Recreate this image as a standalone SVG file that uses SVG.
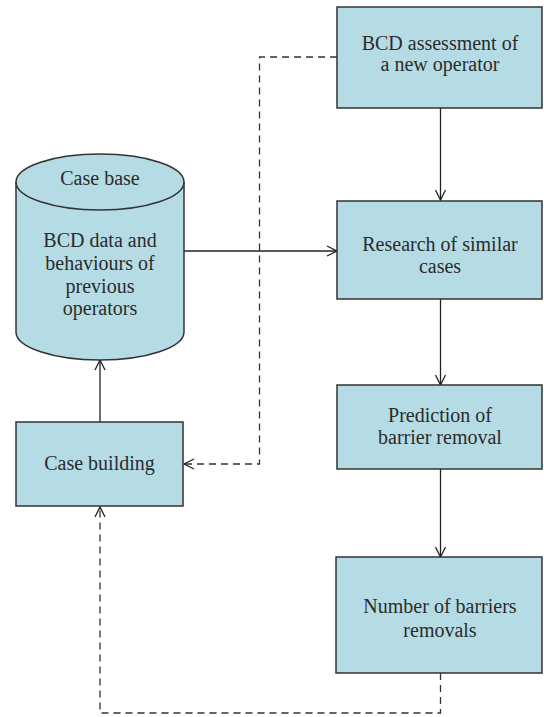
<svg xmlns="http://www.w3.org/2000/svg" width="544" height="717" viewBox="0 0 544 717">
<style>
.box{fill:#b5dce4;stroke:#333;stroke-width:1.5}
.t{font-family:"Liberation Serif","DejaVu Serif",serif;font-size:20px;fill:#2b2b2b;text-anchor:middle;dominant-baseline:central}
.c{fill:none;stroke:#222;stroke-width:1.3}
.d{fill:none;stroke:#333;stroke-width:1.3;stroke-dasharray:7,5}
</style>
<defs>
<marker id="ah" viewBox="0 0 12 12" refX="11" refY="6" markerWidth="12" markerHeight="12" markerUnits="userSpaceOnUse" orient="auto">
<path d="M1,1 L11,6 L1,11" fill="none" stroke="#222" stroke-width="1.3"/>
</marker>
</defs>
<g id="connectors">
<path class="c" d="M440.5,108 V200" marker-end="url(#ah)"/>
<path class="c" d="M440.5,299 V385" marker-end="url(#ah)"/>
<path class="c" d="M440.5,469 V557" marker-end="url(#ah)"/>
<path class="c" d="M183,251 H337" marker-end="url(#ah)"/>
<path class="c" d="M100,422 V360" marker-end="url(#ah)"/>
<path class="d" d="M337,57 H259.5 V464 H184" marker-end="url(#ah)"/>
<path class="d" d="M440.5,673 V713 H100 V507" marker-end="url(#ah)"/>
</g>
<g id="bcd-assessment">
<rect class="box" x="337" y="7" width="205" height="101"/>
<text class="t" x="440" y="43">BCD assessment of</text>
<text class="t" x="440" y="64">a new operator</text>
</g>
<g id="research">
<rect class="box" x="337" y="201" width="205" height="98"/>
<text class="t" x="440" y="244">Research of similar</text>
<text class="t" x="440" y="266">cases</text>
</g>
<g id="prediction">
<rect class="box" x="337" y="385" width="205" height="84"/>
<text class="t" x="440" y="415">Prediction of</text>
<text class="t" x="440" y="437">barrier removal</text>
</g>
<g id="number">
<rect class="box" x="336" y="557" width="206" height="116"/>
<text class="t" x="440" y="606">Number of barriers</text>
<text class="t" x="440" y="630">removals</text>
</g>
<g id="case-building">
<rect class="box" x="16" y="422" width="167" height="84"/>
<text class="t" x="99.5" y="463">Case building</text>
</g>
<g id="case-base">
<path class="box" d="M16,182 A84,28 0 0 1 184,182 V332 A84,28 0 0 1 16,332 Z"/>
<path class="box" d="M16,182 A84,28 0 0 0 184,182"/>
<text class="t" x="100" y="178">Case base</text>
<text class="t" x="100" y="240">BCD data and</text>
<text class="t" x="100" y="263">behaviours of</text>
<text class="t" x="100" y="286">previous</text>
<text class="t" x="100" y="308">operators</text>
</g>
</svg>
